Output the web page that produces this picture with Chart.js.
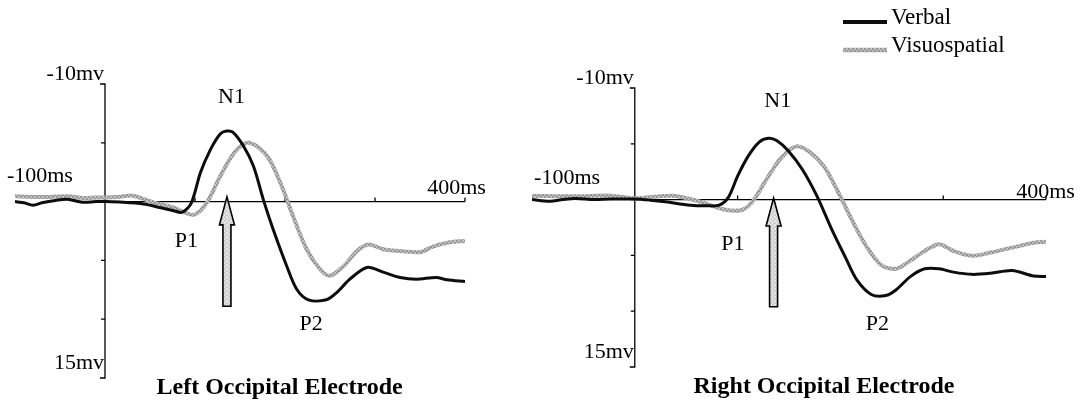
<!DOCTYPE html>
<html>
<head>
<meta charset="utf-8">
<script src="https://cdn.jsdelivr.net/npm/chart.js@4/dist/chart.umd.min.js"></script>
<style>
  body { margin: 0; background: #fff; }
  #wrap { position: relative; width: 1085px; height: 407px; overflow: hidden; }
  #leftChart { position: absolute; left: 0; top: 0; }
  #rightChart { position: absolute; left: 500px; top: 0; }
</style>
</head>
<body>
<div id="wrap">
  <canvas id="leftChart" width="500" height="407"></canvas>
  <canvas id="rightChart" width="585" height="407"></canvas>
</div>
<script>
// ERP waveforms (time in ms, amplitude in mV, negative up)
const leftVerbalMs = [-100, -90, -80, -70, -55, -42, -25, -10, 0, 20, 43, 61, 75, 86, 96, 106, 117, 128, 135, 142, 154, 165, 176, 187, 202, 213, 226, 246, 258, 272, 291, 309, 328, 346, 368, 380, 400];
const leftVerbalMv = [0, 0.1, 0.3, 0.1, -0.1, -0.2, 0.05, 0, 0, 0.05, 0.2, 0.5, 0.75, 0.9, 0.1, -2.45, -4.4, -5.75, -6.0, -5.9, -4.7, -3.0, -0.15, 2.4, 5.5, 7.45, 8.35, 8.35, 7.7, 6.6, 5.6, 6.0, 6.45, 6.6, 6.45, 6.65, 6.8];

const leftVisuoMs = [-100, -80, -61, -40, -24, -10, 0, 15, 31, 53, 76, 91, 100, 113, 128, 143, 157, 168, 183, 198, 209, 224, 239, 250, 265, 280, 293, 309, 328, 350, 365, 383, 400];
const leftVisuoMv = [-0.45, -0.4, -0.4, -0.45, -0.3, -0.35, -0.35, -0.4, -0.5, 0.05, 0.5, 1.0, 1.1, 0.1, -2.15, -4.1, -5.0, -4.75, -3.55, -1.0, 1.25, 4.05, 5.75, 6.3, 5.5, 4.2, 3.65, 4.05, 4.2, 4.3, 3.8, 3.45, 3.35];

const rightVerbalMs = [-100, -83, -70, -58, -40, -23, 0, 15, 30, 54, 70, 82, 91, 100, 110, 121, 130, 138, 149, 163, 177, 191, 205, 216, 230, 244, 254, 268, 282, 296, 310, 328, 346, 367, 388, 400];
const rightVerbalMv = [0, 0.15, 0, -0.1, 0, -0.05, -0.05, 0.05, 0.2, 0.5, 0.55, 0.5, -0.2, -2.1, -3.85, -5.15, -5.5, -5.3, -4.4, -2.7, -0.35, 2.55, 5.2, 7.2, 8.5, 8.6, 8.1, 6.9, 6.2, 6.2, 6.5, 6.7, 6.6, 6.35, 6.85, 6.9];

const rightVisuoMs = [-100, -58, -23, 0, 37, 65, 86, 103, 114, 128, 142, 157, 170, 184, 198, 212, 226, 240, 254, 268, 282, 296, 310, 328, 346, 367, 388, 400];
const rightVisuoMv = [-0.35, -0.3, -0.35, -0.1, -0.35, 0.23, 0.87, 0.96, 0.23, -1.8, -3.7, -4.77, -4.27, -2.97, -0.64, 1.98, 4.3, 5.9, 6.2, 5.47, 4.6, 4.0, 4.6, 5.03, 4.74, 4.3, 3.87, 3.78];

const xTicks = [100, 200, 300, 400];
const yTicks = [-5, 0, 5, 10];
const seriesNames = ['Verbal', 'Visuospatial'];

const serif = "'Liberation Serif', 'Times New Roman', serif";

function toPoints(xs, ys) {
  return xs.map((x, i) => ({ x: x, y: ys[i] }));
}

// stippled grey like the scanned print
function stipple(dark, light) {
  const c = document.createElement('canvas');
  c.width = 4; c.height = 4;
  const g = c.getContext('2d');
  g.fillStyle = light;
  g.fillRect(0, 0, 4, 4);
  g.fillStyle = dark;
  g.fillRect(0, 0, 2, 2);
  g.fillRect(2, 2, 2, 2);
  g.fillRect(1, 3, 1, 1);
  return g.createPattern(c, 'repeat');
}
const greyLine = stipple('#989898', '#c2c2c2');
const arrowFill = stipple('#cfcfcf', '#e6e6e6');

function drawArrow(ctx, x, yTip, yBottom) {
  ctx.save();
  ctx.beginPath();
  ctx.moveTo(x, yTip);
  ctx.lineTo(x + 7.5, yTip + 28);
  ctx.lineTo(x + 4, yTip + 28);
  ctx.lineTo(x + 4, yBottom);
  ctx.lineTo(x - 4, yBottom);
  ctx.lineTo(x - 4, yTip + 28);
  ctx.lineTo(x - 7.5, yTip + 28);
  ctx.closePath();
  ctx.fillStyle = arrowFill;
  ctx.fill();
  ctx.lineWidth = 1.6;
  ctx.strokeStyle = '#000';
  ctx.stroke();
  ctx.restore();
}

// draws the zero line, the mV axis, the peak labels, the arrow and the title
const erpPlugin = {
  id: 'erp',
  beforeDatasetsDraw(chart) {
    const ctx = chart.ctx;
    const xs = chart.scales.x, ys = chart.scales.y;
    const x0 = xs.getPixelForValue(0);
    const y0 = ys.getPixelForValue(0);
    const yTop = ys.getPixelForValue(-10);
    const yBot = ys.getPixelForValue(15);
    ctx.save();
    ctx.strokeStyle = '#000';
    ctx.lineWidth = 1.3;
    ctx.beginPath();
    // mV axis with brackets at the ends
    ctx.moveTo(x0 - 5, yTop);
    ctx.lineTo(x0, yTop);
    ctx.lineTo(x0, yBot);
    ctx.lineTo(x0 - 5, yBot);
    yTicks.forEach(v => {
      const y = ys.getPixelForValue(v);
      ctx.moveTo(x0 - 4, y);
      ctx.lineTo(x0, y);
    });
    // time axis
    ctx.moveTo(x0, y0);
    ctx.lineTo(xs.getPixelForValue(400), y0);
    xTicks.forEach(t => {
      const x = xs.getPixelForValue(t);
      ctx.moveTo(x, y0);
      ctx.lineTo(x, y0 - 4);
    });
    ctx.stroke();
    ctx.restore();
  },
  afterDatasetsDraw(chart, args, opts) {
    const ctx = chart.ctx;
    const xs = chart.scales.x, ys = chart.scales.y;
    const px = v => xs.getPixelForValue(v);
    const py = v => ys.getPixelForValue(v);
    const x0 = px(0);

    drawArrow(ctx, px(opts.arrow[0]), py(opts.arrow[1]), py(opts.arrow[2]));

    ctx.save();
    ctx.fillStyle = '#000';
    ctx.textBaseline = 'middle';
    ctx.font = '22px ' + serif;
    ctx.textAlign = 'right';
    ctx.fillText('-10mv', x0 - 1, py(-10) - 10);
    ctx.fillText('15mv', x0 - 1, py(15) - 15);
    ctx.textAlign = 'left';
    ctx.fillText('-100ms', px(opts.startLabel[0]), py(opts.startLabel[1]));
    ctx.fillText('400ms', px(opts.endLabel[0]), py(opts.endLabel[1]));
    ctx.textAlign = 'center';
    opts.peaks.forEach(p => ctx.fillText(p.text, px(p.x), py(p.y)));
    ctx.font = 'bold 24px ' + serif;
    ctx.fillText(opts.title, px(opts.titlePos[0]), py(opts.titlePos[1]));

    if (opts.legendAt) {
      const lx = opts.legendAt[0], ly = opts.legendAt[1];
      chart.data.datasets.forEach((ds, i) => {
        const y = ly + i * 28;
        ctx.strokeStyle = ds.borderColor;
        ctx.lineWidth = i === 0 ? 4 : 4.5;
        ctx.beginPath();
        ctx.moveTo(lx, y + 4);
        ctx.lineTo(lx + 44, y + 4);
        ctx.stroke();
        ctx.font = '23px ' + serif;
        ctx.textAlign = 'left';
        ctx.fillStyle = '#000';
        ctx.fillText(ds.label, lx + 48, y);
      });
    }
    ctx.restore();
  }
};

function makeChart(id, verbal, visuo, padding, annot) {
  return new Chart(document.getElementById(id), {
    type: 'line',
    data: {
      datasets: [{
        label: seriesNames[0],
        data: verbal,
        borderColor: '#0d0d0d',
        borderWidth: 3,
        tension: 0.3,
        pointRadius: 0
      }, {
        label: seriesNames[1],
        data: visuo,
        borderColor: greyLine,
        borderWidth: 4,
        tension: 0.3,
        pointRadius: 0
      }]
    },
    options: {
      responsive: false,
      animation: false,
      layout: { padding: padding },
      scales: {
        x: { type: 'linear', min: -100, max: 400, display: false },
        y: { min: -10, max: 15, reverse: true, display: false }
      },
      plugins: {
        legend: { display: false },
        tooltip: { enabled: false },
        erp: annot
      }
    },
    plugins: [erpPlugin]
  });
}

makeChart('leftChart',
  toPoints(leftVerbalMs, leftVerbalMv),
  toPoints(leftVisuoMs, leftVisuoMv),
  { left: 15, right: 35, top: 84, bottom: 29 },
  {
    title: 'Left Occipital Electrode',
    titlePos: [194, 15.8],
    arrow: [135.5, -0.4, 8.9],
    startLabel: [-109, -2.2],
    endLabel: [358, -1.1],
    peaks: [
      { text: 'N1', x: 140.5, y: -8.85 },
      { text: 'P1', x: 90.5, y: 3.4 },
      { text: 'P2', x: 229, y: 10.45 }
    ]
  });

makeChart('rightChart',
  toPoints(rightVerbalMs, rightVerbalMv),
  toPoints(rightVisuoMs, rightVisuoMv),
  { left: 32, right: 39, top: 88, bottom: 40 },
  {
    title: 'Right Occipital Electrode',
    titlePos: [184, 16.8],
    arrow: [135, -0.14, 9.6],
    startLabel: [-98, -1.9],
    endLabel: [371, -0.7],
    peaks: [
      { text: 'N1', x: 139, y: -8.84 },
      { text: 'P1', x: 95.4, y: 3.98 },
      { text: 'P2', x: 236, y: 11.2 }
    ],
    legendAt: [343, 18]
  });
</script>
</body>
</html>
